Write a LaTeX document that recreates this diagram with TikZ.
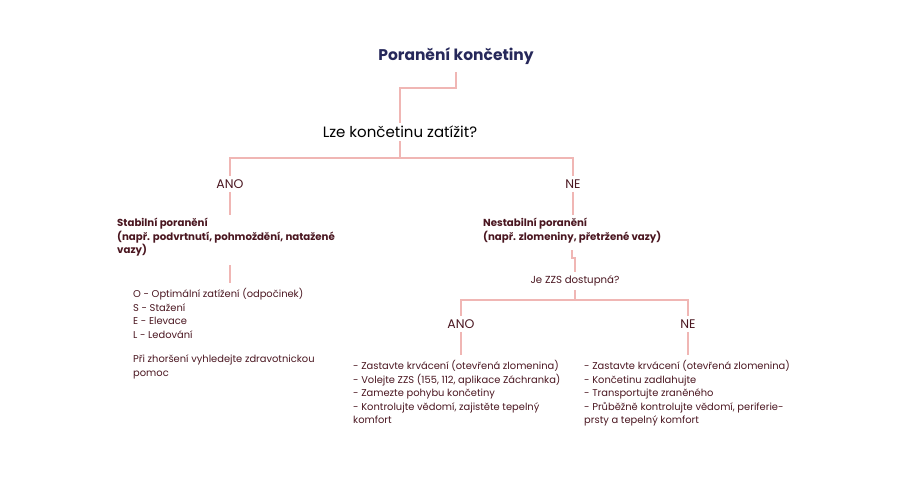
\documentclass[tikz,border=0pt]{standalone}
\usepackage{fontspec}
\setmainfont{Poppins}
\definecolor{cline}{HTML}{F0B6B4}
\definecolor{ctext}{HTML}{4A1620}
\definecolor{ctitle}{HTML}{26285A}
\tikzset{
  branch/.style={draw=cline, line width=1.6pt},
  answer/.style={text=ctext, font=\fontsize{12.5}{14}\selectfont},
  note/.style={text=ctext, font=\fontsize{9.9}{13.6}\selectfont, anchor=north west, align=left, inner sep=0pt},
}
\begin{document}
\begin{tikzpicture}[x=1pt,y=-1pt]
  \useasboundingbox (0,0) rectangle (900,500);
  % headings
  \node[text=ctitle, font=\fontsize{15.5}{18}\selectfont\bfseries] (title) at (456,56) {Poranění končetiny};
  \node[text=black, font=\fontsize{15}{18}\selectfont] (load) at (400,132) {Lze končetinu zatížit?};
  \node[answer] (yes) at (230,184) {ANO};
  \node[answer] (no) at (573,184) {NE};
  \node[note, font=\fontsize{10.2}{13.6}\selectfont\bfseries] (stable) at (117,218) {Stabilní poranění\\(např. podvrtnutí, pohmoždění, natažené\\vazy)};
  \node[note, font=\fontsize{10.2}{13.6}\selectfont\bfseries] (unstable) at (483,218) {Nestabilní poranění\\(např. zlomeniny, přetržené vazy)};
  \node[note] (osel) at (133,288) {O - Optimální zatížení (odpočinek)\\S - Stažení\\E - Elevace\\L - Ledování\\[11pt]Při zhoršení vyhledejte zdravotnickou\\pomoc};
  \node[text=ctext, font=\fontsize{10.2}{12}\selectfont] (zzs) at (575,281) {Je ZZS dostupná?};
  \node[answer] (yes2) at (461,324) {ANO};
  \node[answer] (no2) at (688,324) {NE};
  \node[note] (listA) at (353,360) {- Zastavte krvácení (otevřená zlomenina)\\- Volejte ZZS (155, 112, aplikace Záchranka)\\- Zamezte pohybu končetiny\\- Kontrolujte vědomí, zajistěte tepelný\\komfort};
  \node[note] (listB) at (584,360) {- Zastavte krvácení (otevřená zlomenina)\\- Končetinu zadlahujte\\- Transportujte zraněného\\- Průběžně kontrolujte vědomí, periferie-\\prsty a tepelný komfort};
  % connectors
  \draw[branch] (456,72) |- (400,88) -- (load.north);
  \draw[branch] (load.south) -- (400,158) coordinate (fork);
  \draw[branch] (fork) -| (yes.north);
  \draw[branch] (fork) -| (no.north);
  \draw[branch] (yes.south) -- (230,215);
  \draw[branch] (no.south) -- (573,215);
  \draw[branch] (230,265) -- (230,283);
  \draw[branch] (572,250) -- (572,258) -| (zzs.north);
  \draw[branch] (zzs.south) -- (575,300) coordinate (fork2);
  \draw[branch] (fork2) -| (yes2.north);
  \draw[branch] (fork2) -| (no2.north);
  \draw[branch] (yes2.south) -- (461,355);
  \draw[branch] (no2.south) -- (688,355);
\end{tikzpicture}
\end{document}
